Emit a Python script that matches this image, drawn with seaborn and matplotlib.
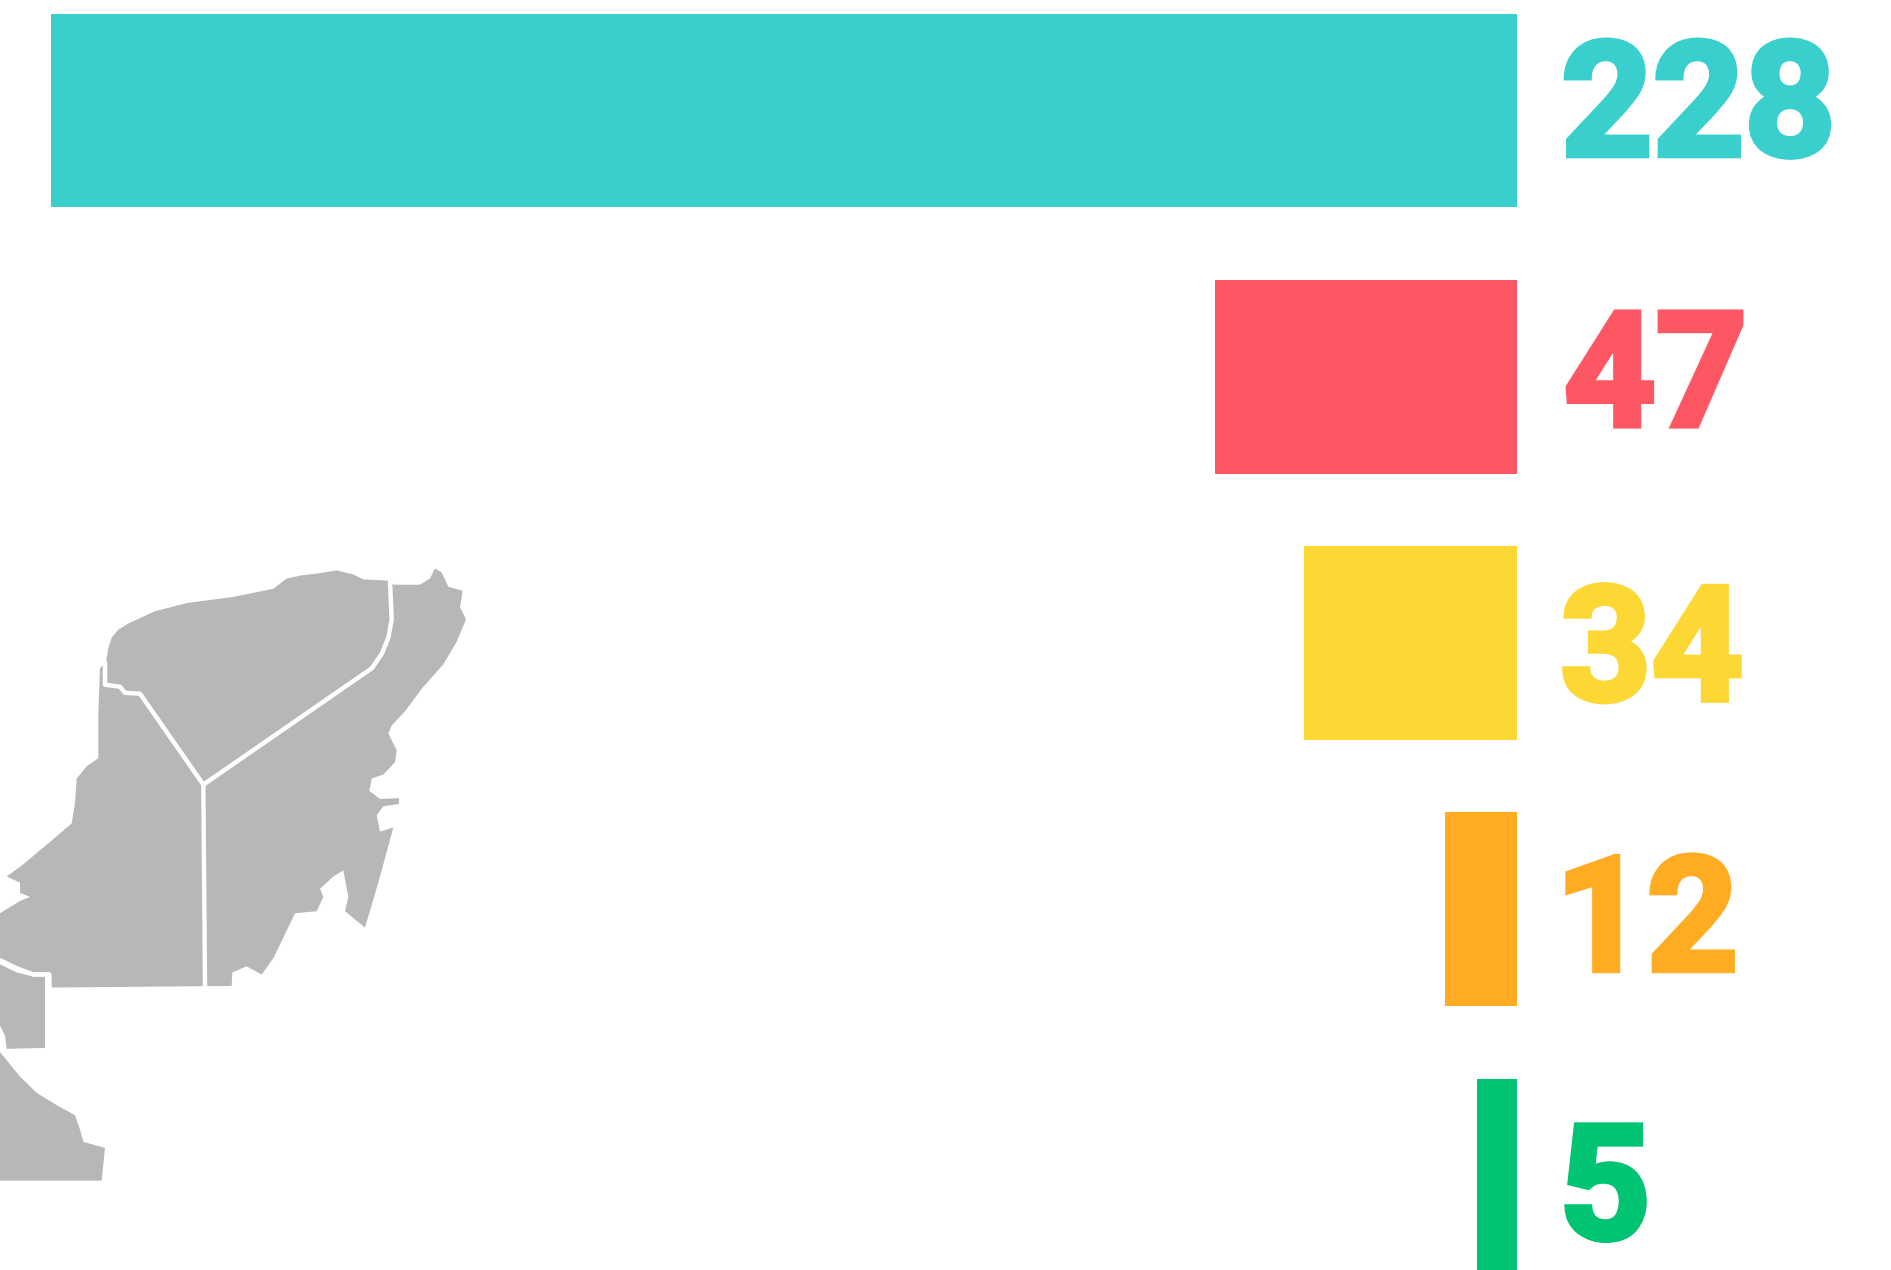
import matplotlib
matplotlib.use("Agg")
import matplotlib.patheffects as pe
import matplotlib.pyplot as plt
import numpy as np
import pandas as pd
import seaborn as sns

categories = ["a", "b", "c", "d", "e"]
bar_labels = ["228", "47", "34", "12", "5"]
# lengths as drawn in the picture, the short bars are not quite to scale with their labels
bar_lengths = [228, 47, 33.2, 11.2, 6.2]
bar_colors = ["#38cfcd", "#fd5763", "#fdd835", "#ffac23", "#00c472"]

# map outline, traced in pixels of a crop (x scale 3, y scale 2.45, crop origin 0,550)
yucatan_x = [318, 325, 335, 355, 385, 425, 465, 560, 700, 820, 860, 905, 950, 1010, 1060, 1090, 1165, 1180, 1260, 1290, 1305, 1325,
             1345, 1388, 1380, 1398, 1370, 1330, 1265, 1215, 1175, 1165, 1190, 1185, 1150, 1115, 1108, 1140,
             1197, 1197, 1150, 1130, 1140, 1180, 1160, 1140, 1115, 1095, 1080, 1035, 1045, 1030, 1000, 960,
             970, 950, 885, 850, 820, 785, 740, 697, 695, 155, 150, 100, 50, 0, 0, 60, 90, 60, 60, 20, 70,
             150, 215, 225, 230, 260, 295, 295, 300]
yucatan_y = [275, 240, 215, 195, 180, 165, 150, 130, 115, 95, 70, 62, 58, 50, 60, 72, 75, 85, 85, 70, 45, 55,
             90, 100, 140, 170, 225, 280, 340, 395, 430, 450, 490, 520, 550, 560, 590, 610,
             608, 622, 628, 650, 690, 680, 740, 800, 870, 925, 915, 885, 850, 785, 800, 830,
             850, 885, 890, 950, 1000, 1040, 1020, 1035, 1068, 1072, 1035, 1035, 1020, 1000, 890, 860, 850, 840, 815, 800, 770,
             715, 670, 620, 560, 530, 510, 400, 290]
tabasco_x = [0, 50, 100, 135, 135, 20, 15, 0]
tabasco_y = [1015, 1035, 1045, 1045, 1220, 1222, 1190, 1165]
chiapas_x = [0, 30, 60, 110, 170, 225, 240, 250, 315, 305, 0]
chiapas_y = [1230, 1260, 1290, 1330, 1360, 1385, 1420, 1450, 1465, 1545, 1545]
border_west_x = [315, 315, 360, 375, 420, 610]
border_west_y = [275, 330, 335, 350, 352, 575]
border_east_x = [1170, 1175, 1165, 1145, 1115, 610]
border_east_y = [75, 170, 215, 255, 290, 575]
border_south_x = [610, 615]
border_south_y = [575, 1070]
border_tabasco_x = [0, 50, 100, 148, 148]
border_tabasco_y = [1005, 1025, 1040, 1040, 1075]

# baseline of each number below the centre of its bar, in pixels
label_drop = [45, 49, 57, 61, 63]
# gap from bar end to the number, in pixels
label_gap = [44, 47, 43, 38, 42]


def to_px(xs, ys):
    return np.array(xs) / 3, 550 + np.array(ys) / 2.45


sns.set_style("white")
plt.rcParams["font.family"] = ["Roboto", "DejaVu Sans"]

df = pd.DataFrame({"cat": categories, "length": bar_lengths})

fig = plt.figure(figsize=(18.91, 12.7), dpi=100, facecolor="white")
ax = fig.add_axes([0, 0, 1, 1])
sns.barplot(data=df, y="cat", x="length", hue="cat", palette=bar_colors,
            width=0.728, saturation=1, legend=False, ax=ax, linewidth=0)
ax.set_xlim(1517 / 6.43, -(1891 - 1517) / 6.43)
ax.set_ylim((1270 - 110.5) / 266.3, -110.5 / 266.3)
ax.axis("off")

for i, label in enumerate(bar_labels):
    t = ax.annotate(label, xy=(0, i), xytext=(label_gap[i] * 0.72, -label_drop[i] * 0.72),
                    textcoords="offset points", ha="left", va="baseline",
                    fontsize=115, fontweight="bold", color=bar_colors[i])
    # the original digits are heavier than Roboto Bold
    t.set_path_effects([pe.withStroke(linewidth=4, foreground=bar_colors[i], joinstyle="miter")])

# map goes on its own axes, in figure pixels
mp = fig.add_axes([0, 0, 1, 1])
mp.set_xlim(0, 1891)
mp.set_ylim(1270, 0)
mp.axis("off")
mp.patch.set_alpha(0)

for xs, ys in [(yucatan_x, yucatan_y), (tabasco_x, tabasco_y), (chiapas_x, chiapas_y)]:
    px, py = to_px(xs, ys)
    mp.fill(px, py, color="#b7b7b7", linewidth=0)

for xs, ys in [(border_west_x, border_west_y), (border_east_x, border_east_y),
               (border_south_x, border_south_y), (border_tabasco_x, border_tabasco_y)]:
    px, py = to_px(xs, ys)
    mp.plot(px, py, color="white", linewidth=3.2)

fig.savefig("out.png", dpi=100)
